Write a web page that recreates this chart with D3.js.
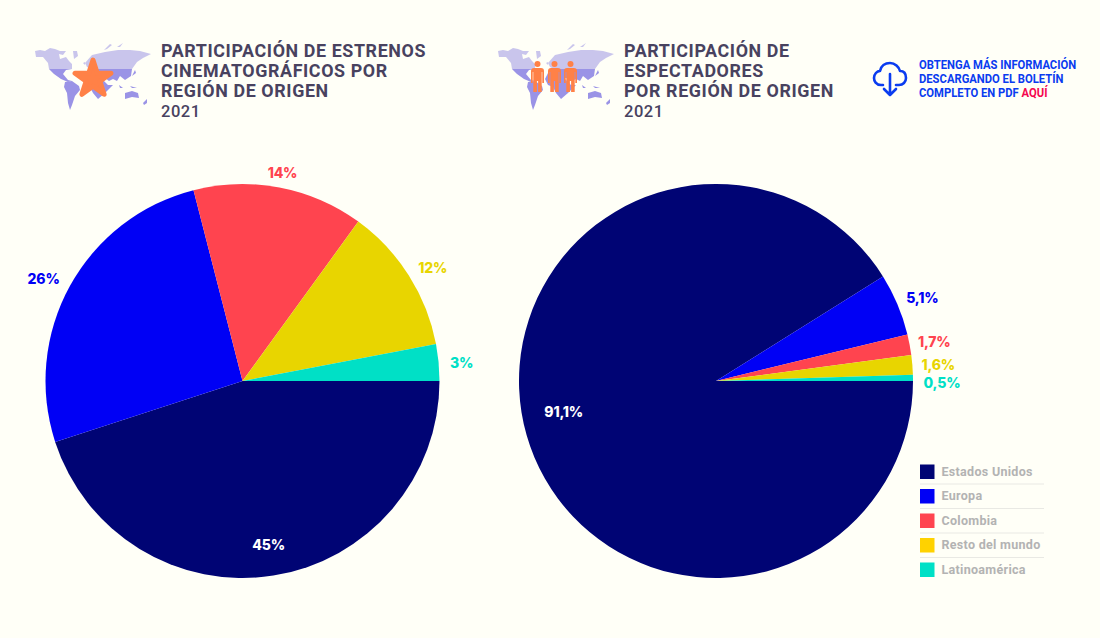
<!DOCTYPE html>
<html>
<head>
<meta charset="utf-8">
<script src="https://cdn.jsdelivr.net/npm/d3@7"></script>
<style>
  html, body { margin: 0; padding: 0; background: #fffff7; }
  svg { display: block; }
  text { font-family: Roboto, sans-serif; }
  .pct { font-family: Inter, sans-serif; font-weight: 800; font-size: 14px; letter-spacing: -0.2px; }
</style>
</head>
<body>
<div id="chart"></div>
<script>
//--------------------------DATA--------------------------//
var regions = ["Estados Unidos", "Europa", "Colombia", "Resto del mundo", "Latinoamérica"];
var estrenos = [45, 26, 14, 12, 3];
var espectadores = [91.1, 5.1, 1.7, 1.6, 0.5];
var estrenosLabels = ["45%", "26%", "14%", "12%", "3%"];
var espectadoresLabels = ["91,1%", "5,1%", "1,7%", "1,6%", "0,5%"];
var sliceColors = ["#000474", "#0000f5", "#ff444f", "#e8d500", "#00e0c6"];
var legendColors = ["#000474", "#0000f5", "#ff444f", "#ffd200", "#00e0c6"];
var labelColors = ["#ffffff", "#0000f5", "#ff444f", "#e8d500", "#00e0c6"];

var titleLeft = ["PARTICIPACIÓN DE ESTRENOS", "CINEMATOGRÁFICOS POR", "REGIÓN DE ORIGEN"];
var titleRight = ["PARTICIPACIÓN DE", "ESPECTADORES", "POR REGIÓN DE ORIGEN"];

//--------------------------SVG---------------------------//
var svg = d3.select("#chart").append("svg")
    .attr("width", 1100)
    .attr("height", 638);

svg.append("rect").attr("width", 1100).attr("height", 638).attr("fill", "#fffff7");

//--------------------------PIES--------------------------//
var radius = 197;
var pie = d3.pie().sort(null).startAngle(Math.PI / 2).endAngle(Math.PI * 2.5);
var arc = d3.arc().innerRadius(0).outerRadius(radius);

function drawPie(cx, cy, values, labels, labelRadius) {
    var g = svg.append("g").attr("transform", "translate(" + cx + "," + cy + ")");
    var slices = pie(values);

    g.selectAll("path")
        .data(slices)
        .enter()
        .append("path")
        .attr("d", arc)
        .attr("fill", function(d, i) { return sliceColors[i]; });

    g.selectAll(".pct")
        .data(slices)
        .enter()
        .append("text")
        .attr("class", "pct")
        .attr("text-anchor", "middle")
        .attr("dy", "0.35em")
        .attr("fill", function(d, i) { return labelColors[i]; })
        .attr("transform", function(d, i) {
            var a = (d.startAngle + d.endAngle) / 2 - Math.PI / 2;
            var r = labelRadius[i];
            return "translate(" + (Math.cos(a) * r[0] + r[1]) + "," + (Math.sin(a) * r[0] + r[2]) + ")";
        })
        .text(function(d, i) { return labels[i]; });
}

// label offsets: distance from centre, then a nudge in x and y
drawPie(242.5, 381, estrenos, estrenosLabels,
    [[167, 0, -1], [219, -7, 4], [224, -2, 12], [224, 1, 7], [218, 2, 3]]);
drawPie(716, 381, espectadores, espectadoresLabels,
    [[172, 13, -16], [225, -1, 5], [220, 2, 2], [222, 1, 2], [220, 6, 6]]);

//-------------------------HEADERS------------------------//
function drawTitle(x, lines) {
    var t = svg.append("g");
    lines.forEach(function(line, i) {
        // the original face is a little narrower than Roboto
        t.append("text")
            .attr("transform", "translate(" + x + "," + (57 + i * 20) + ") scale(0.94,1)")
            .attr("font-size", 19)
            .attr("font-weight", 700)
            .attr("letter-spacing", 0.65)
            .attr("fill", "#48425f")
            .text(line);
    });
    t.append("text")
        .attr("x", x)
        .attr("y", 117)
        .attr("font-size", 16.5)
        .attr("font-weight", 500)
        .attr("letter-spacing", 0.5)
        .attr("fill", "#48425f")
        .text("2021");
}
drawTitle(161, titleLeft);
drawTitle(624, titleRight);

//---------------------------MAP--------------------------//
var land = [
  // north america, south america, greenland
  "M0,8 L5,7 L10,8 L15,5 L20,6 L25,8 L31,8 L28,12 L24,11 L25,16 L31,14 L34,18 L37,21 L37,26 L31,27 L28,31 L33,37 L37,38 L33,39 L26,36 L19,31 L14,26 L13,20 L8,14 L1,14 Z",
  "M30,39 L37,38 L44,43 L45,47 L40,53 L37,62 L35,67 L33,60 L32,50 L29,44 Z",
  "M38,8 L42,8 L43,13 L39,16 Z",
  // eurasia and africa
  "M50,20 L57,12 L70,9 L83,7 L95,7 L105,8 L116,11 L108,15 L102,19 L97,26 L96,33 L90,37 L85,33 L82,38 L78,36 L74,38 L70,35 L66,35 L73,42 L78,42 L70,50 L63,56 L58,50 L55,44 L50,42 L47,36 L50,30 L55,27 L60,28 L52,24 Z",
  // arctic and small islands
  "M69,7 L75,1 L77,2 L72,6 Z",
  "M82,4 L88,0 L85,4 Z",
  "M48,20 L50,19 L50,22 Z",
  "M100,27 L101,30 L97,33 Z",
  "M84,42 L88,45 L85,45 Z",
  "M95,43 L102,45 L97,45 Z",
  // australia and new zealand
  "M90,50 L97,48 L103,50 L104,55 L97,54 L90,56 Z",
  "M108,60 L112,56 L112,60 L109,62 Z"
];

function drawMap(x, y, id) {
    var grad = svg.append("defs").append("linearGradient")
        .attr("id", id)
        .attr("x1", 0).attr("y1", 0).attr("x2", 0).attr("y2", 78)
        .attr("gradientUnits", "userSpaceOnUse");
    grad.append("stop").attr("offset", 1 / 3).attr("stop-color", "#c9c5ec");
    grad.append("stop").attr("offset", 1 / 3).attr("stop-color", "#9a93e6");
    svg.append("g")
        .attr("transform", "translate(" + x + "," + y + ")")
        .selectAll("path")
        .data(land)
        .enter()
        .append("path")
        .attr("d", function(d) { return d; })
        .attr("fill", "url(#" + id + ")");
}
drawMap(35, 43, "mapa1");
drawMap(498, 43, "mapa2");

// star on the left map
var star = d3.symbol().type(d3.symbolStar).size(400);
svg.append("path")
    .attr("d", star())
    .attr("transform", "translate(93,79)")
    .attr("fill", "#ff8147")
    .attr("stroke", "#ff8147")
    .attr("stroke-width", 5)
    .attr("stroke-linejoin", "round");

// three people on the right map
[537.5, 554.5, 570.5].forEach(function(px) {
    var p = svg.append("g").attr("transform", "translate(" + px + ",61)").attr("fill", "#ff8147");
    p.append("circle").attr("cx", 0).attr("cy", 3).attr("r", 3);
    p.append("path").attr("d", "M-6.5,10 Q-6.5,7 -3.5,7 L3.5,7 Q6.5,7 6.5,10 L6.5,22 L4.8,22 L4.8,11 L4.2,11 L4.2,31 L0.6,31 L0.6,20 L-0.6,20 L-0.6,31 L-4.2,31 L-4.2,11 L-4.8,11 L-4.8,22 L-6.5,22 Z");
});

//-----------------------DOWNLOAD BOX---------------------//
var cloud = svg.append("g")
    .attr("transform", "translate(873,62)")
    .attr("fill", "none")
    .attr("stroke", "#0a3cf0")
    .attr("stroke-width", 2.6)
    .attr("stroke-linecap", "round")
    .attr("stroke-linejoin", "round");
cloud.append("path").attr("d", "M10,23 L8,23 C3,23 1,19 1,16 C1,12 4,9 7,9 C8,4 12,1 17,1 C22,1 26,5 27,9 C31,9 33,12 33,16 C33,20 30,23 26,23 L23,23");
cloud.append("path").attr("d", "M17,12 L17,33 M11,27 L17,33 L23,27");

var boxLines = [
    [{t: "OBTENGA MÁS INFORMACIÓN", c: "#0a3cf0"}],
    [{t: "DESCARGANDO EL BOLETÍN", c: "#0a3cf0"}],
    [{t: "COMPLETO EN PDF ", c: "#0a3cf0"}, {t: "AQUÍ", c: "#f5074f"}]
];
boxLines.forEach(function(parts, i) {
    var t = svg.append("text")
        .attr("transform", "translate(919," + (69 + i * 14) + ") scale(0.9,1)")
        .attr("font-size", 12.5)
        .attr("font-weight", 700)
        .attr("xml:space", "preserve");
    parts.forEach(function(p) {
        t.append("tspan").attr("fill", p.c).text(p.t);
    });
});

//-------------------------LEGEND-------------------------//
var legendY = d3.scaleBand().domain(regions).range([459.5, 582]);
var legend = svg.append("g");

legend.selectAll("rect")
    .data(regions)
    .enter()
    .append("rect")
    .attr("x", 920)
    .attr("y", function(d) { return legendY(d) + 5; })
    .attr("width", 14.5)
    .attr("height", 14.5)
    .attr("fill", function(d, i) { return legendColors[i]; });

legend.selectAll("text")
    .data(regions)
    .enter()
    .append("text")
    .attr("x", 941.5)
    .attr("y", function(d) { return legendY(d) + 12; })
    .attr("dy", "0.35em")
    .attr("font-family", "Lato, sans-serif")
    .attr("font-size", 12.5)
    .attr("font-weight", 700)
    .attr("letter-spacing", 0.3)
    .attr("fill", "#b3b3b3")
    .text(function(d) { return d; });

legend.selectAll("line")
    .data(regions.slice(0, 4))
    .enter()
    .append("line")
    .attr("x1", 920)
    .attr("x2", 1044)
    .attr("y1", function(d) { return legendY(d) + legendY.bandwidth(); })
    .attr("y2", function(d) { return legendY(d) + legendY.bandwidth(); })
    .attr("stroke", "#e9e9e4")
    .attr("stroke-width", 1);
</script>
</body>
</html>
